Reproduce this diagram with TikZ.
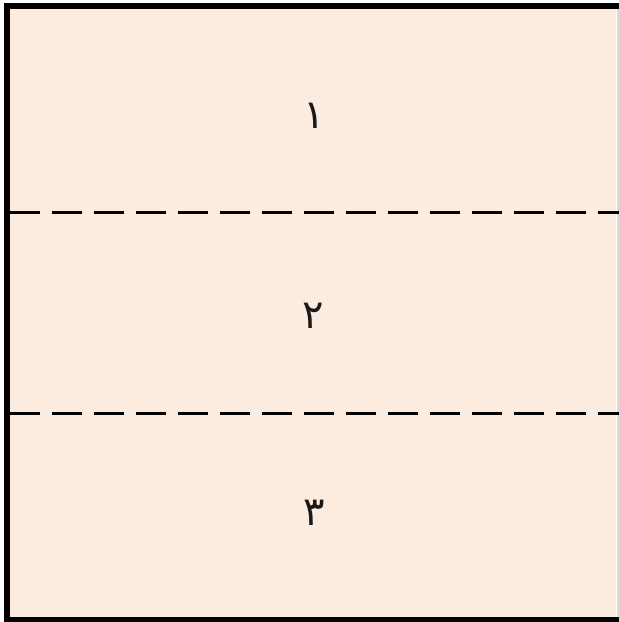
\documentclass[tikz,border=0pt]{standalone}
\usepackage{fontspec}
\newfontfamily\arabicfont[Script=Arabic]{DejaVu Sans}
\TeXXeTstate=1
\usetikzlibrary{positioning}
\definecolor{peach}{RGB}{252,236,224}

\begin{document}
\begin{tikzpicture}[
    x=1pt, y=-1pt,
    frame/.style={line width=6pt, black},
    split/.style={line width=3pt, black, dash pattern=on 30pt off 12pt},
    num/.style={font=\arabicfont\fontsize{40}{40}\selectfont, text=black!90}
]

\useasboundingbox (0,0) rectangle (619,622);
\fill[white] (0,0) rectangle (619,622);
\fill[peach] (10,9) rectangle (616,617);

% outer frame
\draw[frame] (7,3) -- (7,619.5);
\draw[frame] (4,6) -- (619,6);
\draw[frame] (4,619.5) -- (619,619.5);
\draw[line width=2pt, black!15] (617.5,9) -- (617.5,617);

% dashed separators
\draw[split] (10,212) -- (619,212);
\draw[split] (10,413) -- (619,413);

\node[num] (one) at (314,116) {\beginR ١\endR};
\node[num] (two) at (313,316) {\beginR ٢\endR};
\node[num] (three) at (314,513) {\beginR ٣\endR};

\end{tikzpicture}
\end{document}
